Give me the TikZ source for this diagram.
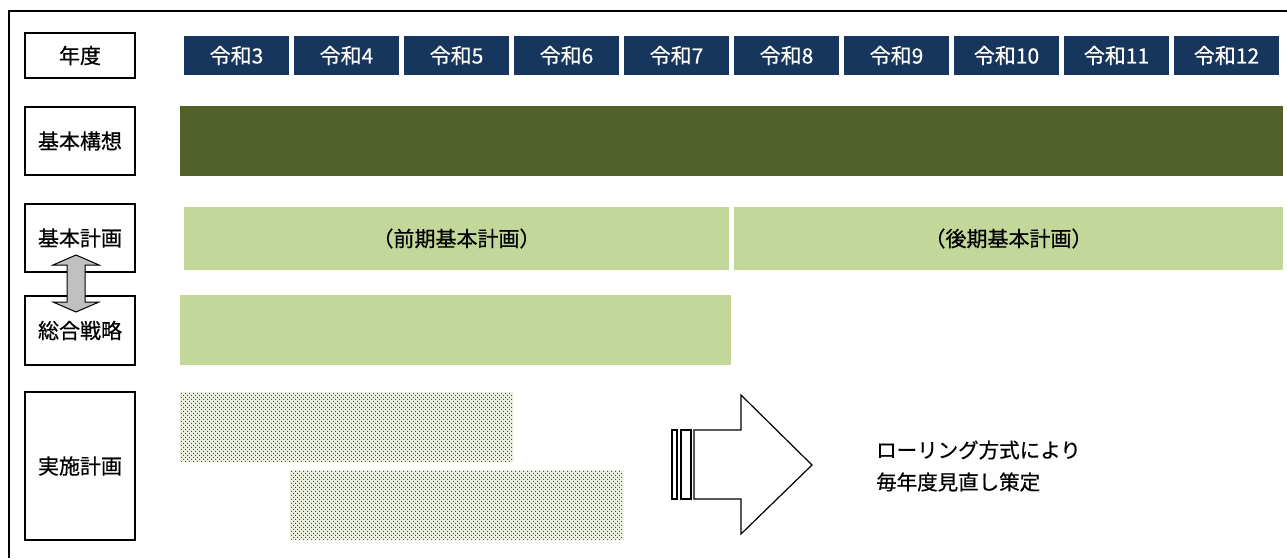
\documentclass[tikz,border=0pt]{standalone}
\usepackage{fontspec}
\setmainfont[BoldFont={Noto Sans CJK JP}, BoldFeatures={FakeBold=0.6}]{Noto Sans CJK JP}
\usetikzlibrary{patterns,patterns.meta}
\definecolor{navy}{RGB}{23,54,93}
\definecolor{darkgreen}{RGB}{81,97,41}
\definecolor{lightgreen}{RGB}{196,215,155}
\definecolor{dotbg}{RGB}{236,240,222}
\definecolor{dotfg}{RGB}{55,60,45}
\definecolor{arrowgray}{RGB}{192,192,192}
\tikzset{
  txt/.style={font=\fontsize{21}{25}\selectfont\bfseries},
  labelbox/.style={draw=black, line width=1.5pt, fill=white, inner sep=0pt, outer sep=0pt, txt},
  yearbox/.style={fill=navy, text=white, inner sep=0pt, outer sep=0pt, minimum width=105pt, minimum height=39pt, txt},
  barbox/.style={inner sep=0pt, outer sep=0pt, anchor=north west},
  dotbox/.style={fill=dotbg, inner sep=0pt, outer sep=0pt, anchor=north west},
  dotfill/.style={pattern={Dots[distance=4pt, radius=0.65pt]}, pattern color=dotfg},
  dotfill2/.style={pattern={Dots[distance=4pt, radius=0.65pt, xshift=2pt, yshift=2pt]}, pattern color=dotfg},
  outline/.style={draw=black, line width=1.2pt, fill=white},
}
\begin{document}
\begin{tikzpicture}[x=1pt,y=-1pt]
\useasboundingbox (0,0) rectangle (1287,558);
\fill[white] (0,0) rectangle (1287,558);
% outer frame
\draw[line width=2.2pt] (9,558) -- (9,11) -- (1287,11);

% left labels
\node[labelbox, minimum width=110pt, minimum height=45pt] (nendo) at (80,55.5) {年度};
\node[labelbox, minimum width=110pt, minimum height=68pt] (kousou) at (80,141) {基本構想};
\node[labelbox, minimum width=110pt, minimum height=68pt] (keikaku) at (80,238) {基本計画};
\node[labelbox, minimum width=110pt, minimum height=69pt] (senryaku) at (80,330.5) {総合戦略};
\node[labelbox, minimum width=110pt, minimum height=148pt] (jisshi) at (80,466) {実施計画};

% double arrow
\draw[fill=arrowgray, line width=1pt] (76,255) -- (99,265) -- (85,265) -- (85,302) -- (99,302) -- (76,312) -- (53,302) -- (67,302) -- (67,265) -- (53,265) -- cycle;

% year headers
\foreach \i in {3,...,12} {
  \node[yearbox] (y\i) at ({236.5+110*(\i-3)},55.5) {令和\i};
}

% bars
\node[barbox, fill=darkgreen, minimum width=1103pt, minimum height=70pt] (kousoubar) at (180,106) {};
\node[barbox, fill=lightgreen, minimum width=545pt, minimum height=63pt] (zenki) at (184,207) {};
\node[txt] (zenkitxt) at (zenki.center) {（前期基本計画）};
\node[barbox, fill=lightgreen, minimum width=549pt, minimum height=63pt] (kouki) at (734,207) {};
\node[txt] (koukitxt) at (kouki.center) {（後期基本計画）};
\node[barbox, fill=lightgreen, minimum width=551pt, minimum height=70pt] (senryakubar) at (180,295) {};

% dotted boxes
\node[dotbox, minimum width=333pt, minimum height=70pt] (dot1) at (180,392) {};
\fill[dotfill] (dot1.north west) rectangle (dot1.south east);
\fill[dotfill2] (dot1.north west) rectangle (dot1.south east);
\node[dotbox, minimum width=333pt, minimum height=70pt] (dot2) at (290,470) {};
\fill[dotfill] (dot2.north west) rectangle (dot2.south east);
\fill[dotfill2] (dot2.north west) rectangle (dot2.south east);

% big arrow
\draw[outline] (672,430) rectangle (677,499);
\draw[outline] (681,430) rectangle (691,499);
\draw[outline] (694,430) -- (741,430) -- (741,395) -- (812,465) -- (741,534) -- (741,499) -- (694,499) -- cycle;

% note
\node[anchor=west, align=left, inner sep=0pt, font=\fontsize{20.5}{32}\selectfont\bfseries] (note) at (876,466) {ローリング方式により\\毎年度見直し策定};
\end{tikzpicture}
\end{document}
